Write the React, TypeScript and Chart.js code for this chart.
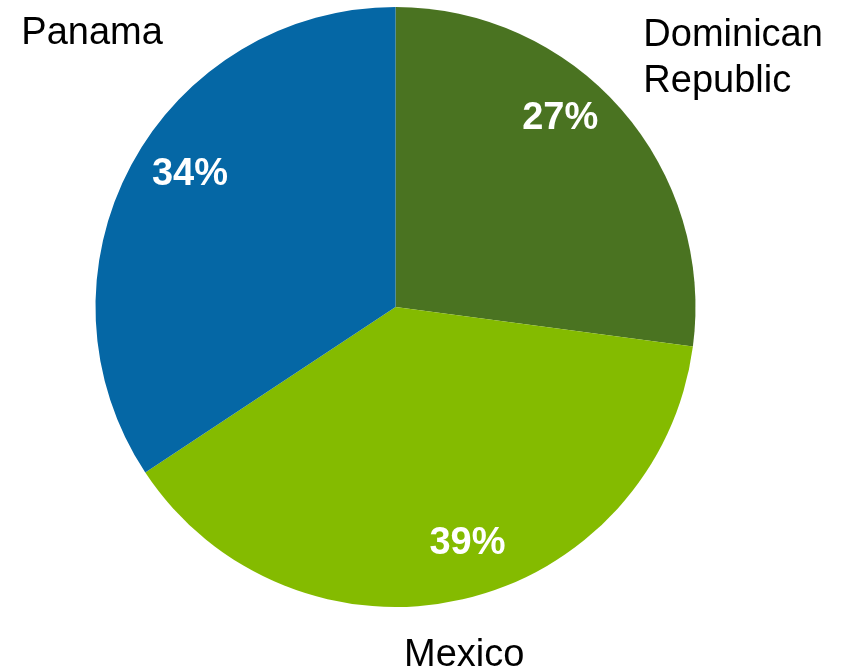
import React, { useEffect, useRef } from "react";
import { Chart, registerables } from "chart.js";

Chart.register(...registerables);

const categories: string[] = ["Dominican Republic", "Mexico", "Panama"];
const shares: number[] = [27.1, 38.6, 34.3];
const colors: string[] = ["#4A7321", "#84BB00", "#0567A5"];

// label placement (angle in degrees clockwise from 12 o'clock, radius as fraction of pie radius)
const innerPlacement = [
  { angle: 41, r: 0.837 },
  { angle: 163, r: 0.82 },
  { angle: 303, r: 0.817 },
];
const outerPlacement = [
  { angle: 53.5, r: 1.4 },
  { angle: 168.8, r: 1.18 },
  { angle: 312.1, r: 1.363 },
];

const FONT = "'Liberation Sans', Arial, sans-serif";

const labelPlugin = {
  id: "pieLabels",
  afterDatasetsDraw(chart: any) {
    const ctx = chart.ctx;
    const meta = chart.getDatasetMeta(0);
    const total = shares.reduce((a, b) => a + b, 0);
    meta.data.forEach((arc: any, i: number) => {
      const cx = arc.x;
      const cy = arc.y;
      const R = arc.outerRadius;
      const ip = innerPlacement[i];
      const a1 = (ip.angle * Math.PI) / 180;
      const x1 = cx + Math.sin(a1) * R * ip.r;
      const y1 = cy - Math.cos(a1) * R * ip.r;
      ctx.save();
      ctx.fillStyle = "#ffffff";
      ctx.font = `bold 38px ${FONT}`;
      ctx.textAlign = "center";
      ctx.textBaseline = "middle";
      ctx.fillText(`${Math.round((shares[i] / total) * 100)}%`, x1, y1 + 1);

      const op = outerPlacement[i];
      const a2 = (op.angle * Math.PI) / 180;
      const x2 = cx + Math.sin(a2) * R * op.r;
      const y2 = cy - Math.cos(a2) * R * op.r;
      ctx.fillStyle = "#000000";
      ctx.font = `38px ${FONT}`;
      const words = categories[i].split(" ");
      const lines: string[] = words.length > 1 ? words : [categories[i]];
      const lh = 46;
      const maxW = Math.max(...lines.map((l) => ctx.measureText(l).width));
      lines.forEach((l, k) => {
        const yy = y2 + (k - (lines.length - 1) / 2) * lh + 1;
        if (lines.length > 1) {
          ctx.textAlign = "left";
          ctx.fillText(l, x2 - maxW / 2, yy);
        } else {
          ctx.textAlign = "center";
          ctx.fillText(l, x2, yy);
        }
      });
      ctx.restore();
    });
  },
};

export default function App() {
  const ref = useRef<HTMLCanvasElement | null>(null);
  useEffect(() => {
    if (!ref.current) return;
    const chart = new Chart(ref.current, {
      type: "pie",
      data: {
        labels: categories,
        datasets: [
          {
            data: shares,
            backgroundColor: colors,
            borderWidth: 0,
          },
        ],
      },
      options: {
        animation: false,
        responsive: false,
        maintainAspectRatio: false,
        layout: { padding: { left: 95, right: 150, top: 7, bottom: 64 } },
        plugins: {
          legend: { display: false },
          tooltip: { enabled: false },
        },
      },
      plugins: [labelPlugin],
    });
    return () => chart.destroy();
  }, []);
  return (
    <div style={{ position: "absolute", left: 0, top: 0, width: 846, height: 671, background: "#fff" }}>
      <canvas ref={ref} width={846} height={671} style={{ width: 846, height: 671 }} />
    </div>
  );
}
